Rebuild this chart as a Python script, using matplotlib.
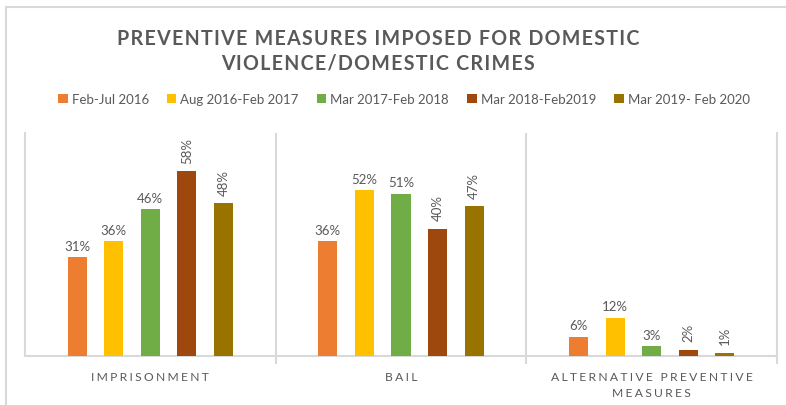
import matplotlib
matplotlib.use("Agg")
import matplotlib.pyplot as plt
from matplotlib.patches import Rectangle
import numpy as np

categories = ["IMPRISONMENT", "BAIL", "ALTERNATIVE PREVENTIVE\nMEASURES"]
periods = ["Feb-Jul 2016", "Aug 2016-Feb 2017", "Mar 2017-Feb 2018",
           "Mar 2018-Feb2019", "Mar 2019- Feb 2020"]
values = [
    [31, 36, 6],
    [36, 52, 12],
    [46, 51, 3],
    [58, 40, 2],
    [48, 47, 1],
]
colors = ["#ED7D31", "#FFC000", "#70AD47", "#9E480E", "#997300"]
rotated = [False, False, False, True, True]
title_lines = ["PREVENTIVE MEASURES IMPOSED FOR DOMESTIC",
               "VIOLENCE/DOMESTIC CRIMES"]

text_gray = "#595959"
line_gray = "#D9D9D9"
plt.rcParams["font.family"] = ["Lato", "DejaVu Sans"]


def spaced(s, sep="\u2009"):
    return "\n".join(sep.join(line) for line in s.split("\n"))


fig = plt.figure(figsize=(7.86, 4.06), dpi=100)
ax = fig.add_axes([0.0318, 0.1207, 0.9567, 0.5493])

# chart area border
fig.patches.append(Rectangle((6 / 786, -0.1), 1.2, 1 - 8 / 406 + 0.1,
                             transform=fig.transFigure, fill=False,
                             edgecolor=line_gray, linewidth=1.5))

x = np.arange(len(categories))
step = 0.146
width = 0.076
handles = []
for i, (vals, c) in enumerate(zip(values, colors)):
    pos = x + (i - 2) * step
    bars = ax.bar(pos, vals, width, color=c, label=periods[i], zorder=3)
    handles.append(bars)
    for xp, v in zip(pos, vals):
        if rotated[i]:
            ax.annotate(f"{v}%", (xp, v), xytext=(0, 6), textcoords="offset points",
                        ha="center", va="bottom", rotation=90,
                        fontsize=9.5, color=text_gray)
        else:
            ax.annotate(f"{v}%", (xp, v), xytext=(0, 4), textcoords="offset points",
                        ha="center", va="bottom", fontsize=9.5, color=text_gray)

ax.set_xlim(-0.5, 2.5)
ax.set_ylim(0, 70)
ax.set_yticks([])
ax.set_xticks(x)
ax.set_xticklabels([spaced(c, "\u2009\u200a") for c in categories], fontsize=8.7,
                   color=text_gray, linespacing=1.55)
ax.tick_params(axis="x", which="major", length=0, pad=11)
ax.set_xticks([0.5, 1.5, 2.5], minor=True)
ax.tick_params(axis="x", which="minor", length=6, color=line_gray, width=1.5)
for b in [0.5, 1.5]:
    ax.axvline(b, color=line_gray, linewidth=1.5, zorder=1)
ax.spines["top"].set_visible(False)
for side in ["left", "right", "bottom"]:
    ax.spines[side].set_color(line_gray)
    ax.spines[side].set_linewidth(1.5)

for ty, line in zip([0.905, 0.843], title_lines):
    fig.text(0.481, ty, spaced(line, "\u200a"), ha="center", va="center",
             fontsize=14.1, fontweight="bold", color=text_gray)

fig.legend(handles=handles, labels=periods, loc="center", ncol=5,
           bbox_to_anchor=(0.514, 0.754), frameon=False, fontsize=9.5,
           handlelength=0.7, handleheight=0.7, handletextpad=0.3,
           columnspacing=1.4, labelcolor=text_gray)

fig.savefig("out.png", dpi=100)
